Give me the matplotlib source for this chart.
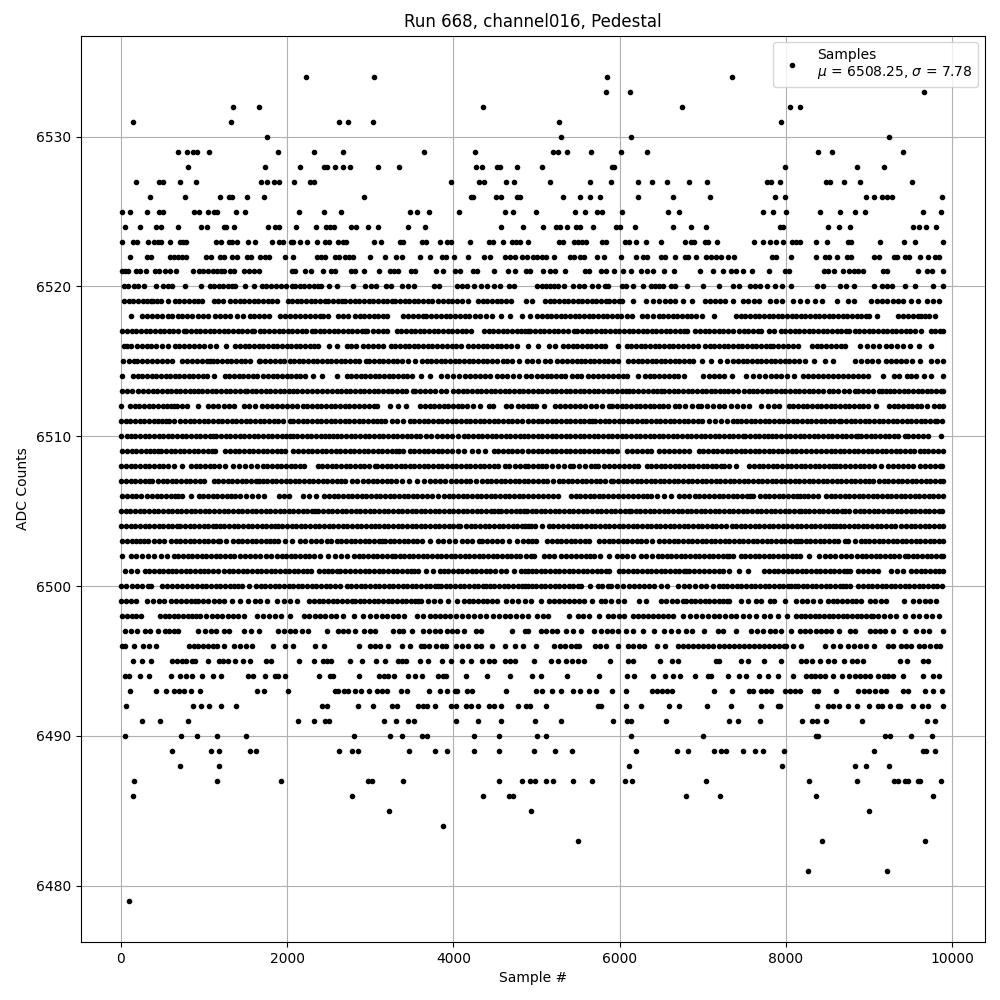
import matplotlib
matplotlib.use("Agg")
import matplotlib.pyplot as plt

# sample numbers per ADC level
# in the dense rows the dots overlap, so positions along a stretch are estimates
adc_6534 = [2232, 3048, 5854, 7354]
adc_6533 = [5842, 6130, 9658]
adc_6532 = [1344, 1656, 4356, 6754, 8050, 8170]
adc_6531 = [144, 1320, 2628, 2736, 3036, 5266, 7942]
adc_6530 = [1752, 5290, 6142, 9238]
adc_6529 = [684, 792, 864, 912, 1056, 1884, 2328, 2676, 3648, 4260, 5194, 5254, 5362, 5650, 6022, 6334, 8386, 8554, 9406]
adc_6528 = [804, 1728, 2160, 2448, 2476, 2580, 2676, 2760, 3096, 3348, 4272, 4344, 4524, 4564, 4764, 5062, 5914, 5934, 7990, 8854, 9178]
adc_6527 = [180, 456, 504, 708, 900, 1680, 1752, 1836, 1896, 2088, 2280, 2328, 3972, 4308, 4368, 4632, 4728, 5158, 5638, 5902, 6226, 6394, 6574, 6838, 7054, 7774, 7822, 7930, 8482, 8530, 8698, 8890, 9514]
adc_6526 = [348, 768, 1188, 1296, 1332, 1512, 1716, 2928, 4212, 4236, 4512, 4572, 4764, 4800, 5314, 5518, 5638, 5770, 6226, 6646, 7090, 7870, 7990, 8962, 9058, 9154, 9214, 9274, 9874]
adc_6525 = [12, 108, 312, 456, 504, 876, 936, 1044, 1116, 1152, 1380, 1488, 2148, 2448, 2652, 3480, 3564, 3708, 4068, 4620, 4716, 4990, 5458, 5578, 5734, 5794, 6034, 6586, 6718, 7726, 7846, 8002, 8410, 8650, 8830, 8950, 9646, 9862]
adc_6524 = [48, 228, 420, 480, 684, 960, 1032, 1236, 1260, 1356, 1764, 1848, 1896, 2112, 2352, 2472, 2520, 2568, 2772, 2832, 2976, 3096, 3456, 3660, 4572, 4836, 5074, 5230, 5278, 5362, 5470, 5518, 5686, 5962, 6010, 6190, 6646, 6862, 7042, 7930, 7966, 8506, 8638, 8770, 9526, 9598, 9682, 9802]
adc_6523 = [12, 144, 192, 324, 396, 444, 480, 588, 708, 744, 780, 1140, 1200, 1296, 1332, 1392, 1524, 1608, 1812, 1896, 1944, 2040, 2076, 2160, 2244, 2364, 2460, 2508, 2616, 2676, 2712, 3048, 3132, 3360, 3396, 3624, 3672, 3840, 3924, 3972, 4200, 4428, 4476, 4596, 4704, 4752, 4800, 4896, 5276, 5324, 5456, 5504, 5552, 5600, 5792, 5840, 6068, 6116, 6200, 6320, 6500, 6788, 6860, 6896, 7028, 7064, 7172, 7616, 7724, 7808, 7880, 7964, 8072, 8120, 8168, 8360, 8492, 8744, 8780, 9128, 9428, 9560, 9890]
adc_6522 = [108, 312, 360, 588, 636, 684, 732, 780, 1020, 1080, 1188, 1236, 1332, 1392, 1512, 1560, 1668, 1728, 1776, 1968, 2076, 2364, 2412, 2460, 2580, 2628, 2700, 2748, 2796, 3000, 3180, 3312, 3384, 3600, 3720, 3864, 3912, 4008, 4176, 4368, 4440, 4620, 4680, 4740, 4824, 4884, 4952, 5012, 5072, 5120, 5216, 5408, 5456, 5528, 5576, 5732, 5816, 6020, 6200, 6284, 6332, 6500, 6548, 6668, 6788, 6824, 6920, 7040, 7100, 7160, 7220, 7304, 7376, 7828, 7888, 8060, 8360, 8468, 8516, 8612, 8732, 8780, 9056, 9116, 9296, 9344, 9440, 9488, 9620, 9716, 9800, 9848]
adc_6521 = [12, 48, 84, 180, 228, 300, 408, 456, 528, 588, 660, 864, 936, 984, 1044, 1104, 1152, 1200, 1236, 1308, 1356, 1476, 1536, 1596, 1656, 2052, 2100, 2220, 2292, 2436, 2532, 2580, 2772, 2820, 2928, 3108, 3240, 3288, 3336, 3492, 3540, 3792, 3876, 4020, 4080, 4236, 4284, 4488, 4656, 4740, 4872, 4920, 5084, 5168, 5228, 5348, 5588, 5636, 5780, 5840, 5936, 6044, 6140, 6260, 6332, 6404, 6536, 6656, 6968, 7124, 7244, 7340, 7400, 7484, 7592, 7796, 7988, 8036, 8460, 8508, 8580, 8688, 8760, 8820, 8868, 8928, 9172, 9220, 9592, 9700, 9760, 9892]
adc_6520 = [36, 84, 156, 204, 276, 420, 504, 564, 612, 768, 960, 1068, 1116, 1176, 1224, 1284, 1332, 1368, 1488, 1596, 1692, 1740, 1800, 1860, 1920, 1980, 2052, 2100, 2160, 2208, 2268, 2328, 2376, 2412, 2508, 2604, 2792, 2940, 3012, 3072, 3192, 3252, 3384, 3456, 3528, 3768, 3828, 4044, 4104, 4164, 4248, 4332, 4404, 4488, 4560, 4668, 4728, 5012, 5072, 5120, 5168, 5216, 5264, 5336, 5444, 5516, 5576, 5672, 5744, 5828, 5864, 6032, 6080, 6164, 6284, 6380, 6428, 6476, 6524, 6620, 6668, 6812, 7000, 7192, 7364, 7436, 7568, 7628, 7688, 7772, 7868, 7952, 8060, 8372, 8444, 8652, 8724, 8820, 9056, 9152, 9212, 9272, 9440, 9560, 9776, 9892]
adc_6519 = [36, 92, 148, 204, 260, 316, 356, 388, 432, 476, 564, 648, 696, 756, 816, 876, 930, 976, 1116, 1172, 1228, 1316, 1372, 1428, 1484, 1540, 1596, 1652, 1708, 1764, 1820, 1876, 2004, 2060, 2116, 2172, 2228, 2284, 2340, 2396, 2456, 2496, 2552, 2608, 2664, 2696, 2756, 2812, 2868, 2924, 2980, 3036, 3092, 3148, 3204, 3260, 3296, 3356, 3412, 3468, 3524, 3580, 3636, 3692, 3748, 3816, 3876, 3932, 3988, 4044, 4100, 4176, 4296, 4352, 4408, 4464, 4520, 4576, 4632, 4696, 4876, 4948,
            5104, 5160, 5216, 5272, 5328, 5384, 5440, 5496, 5552, 5608, 5664, 5720, 5776, 5832, 5872, 5932, 5992, 6032, 6160, 6320, 6400, 6480, 6544, 6608, 6672, 6760, 6872, 7024, 7084, 7144, 7204, 7272, 7360, 7480, 7548, 7616, 7680, 7812, 7884, 7960, 8092, 8172, 8252, 8352, 8432, 8612, 8752, 8824, 9024, 9092, 9152, 9220, 9288, 9352, 9412, 9512, 9592, 9704, 9772, 9840]
adc_6518 = [124, 256, 316, 376, 436, 496, 564, 616, 684, 740, 800, 856, 924, 984, 1044, 1136, 1196, 1256, 1316, 1396, 1464, 1548, 1604, 1660, 1716, 1776, 1916, 1976, 2036, 2096, 2156, 2216, 2276, 2336, 2396, 2436, 2496, 2616, 2676, 2736, 2816, 2872, 2928, 2984, 3040, 3096, 3152, 3204, 3396, 3456, 3516, 3576, 3636, 3676, 3736, 3796, 3856, 3916, 3956, 4016, 4076, 4136, 4188, 4256, 4316, 4396, 4468, 4576, 4676, 4824, 4916,
            5012, 5068, 5124, 5180, 5236, 5292, 5348, 5404, 5460, 5516, 5572, 5628, 5684, 5740, 5796, 5852, 5908, 5964, 6020, 6092, 6152, 6272, 6332, 6404, 6472, 6528, 6584, 6640, 6696, 6752, 6808, 6864, 6920, 6992, 7132, 7400, 7456, 7512, 7568, 7624, 7680, 7736, 7792, 7848, 7904, 7960, 8016, 8072, 8128, 8184, 8232, 8292, 8348, 8404, 8460, 8516, 8572, 8628, 8684, 8740, 8796, 8852, 8908, 8964, 9000, 9092, 9352, 9412, 9472, 9532, 9592, 9624, 9670, 9720, 9800]
adc_6517 = [16, 72, 128, 184, 240, 296, 352, 408, 464, 520, 576, 632, 688, 756, 788, 844, 900, 956, 1012, 1068, 1124, 1180, 1236, 1292, 1348, 1404, 1460, 1516, 1572, 1596, 1668, 1724, 1780, 1836, 1896, 1952, 2008, 2064, 2120, 2176, 2232, 2296, 2336, 2392, 2448, 2504, 2560, 2616, 2672, 2728, 2784, 2840, 2896, 2936, 2956, 3036, 3092, 3148, 3204, 3316, 3372, 3428, 3484, 3540, 3596, 3652, 3708, 3764, 3820, 3876, 3932, 3988, 4044, 4100, 4148, 4216, 4368, 4424, 4480, 4536, 4592, 4648, 4704, 4760, 4816, 4860, 4900,
            4925, 4984, 5040, 5096, 5152, 5208, 5264, 5320, 5376, 5452, 5492, 5548, 5604, 5660, 5716, 5772, 5828, 5884, 5940, 5996, 6052, 6108, 6164, 6220, 6276, 6332, 6388, 6444, 6500, 6556, 6612, 6668, 6724, 6780, 6812, 6912, 6968, 7024, 7080, 7136, 7192, 7248, 7304, 7360, 7440, 7492, 7548, 7604, 7660, 7700, 7792, 7864, 7940, 7996, 8052, 8108, 8164, 8220, 8276, 8332, 8388, 8444, 8500, 8556, 8612, 8668, 8724, 8755, 8828, 8884, 8940, 8996, 9052, 9108, 9164, 9220, 9276, 9332, 9388, 9444, 9500, 9556, 9625, 9745, 9800, 9850, 9892]
adc_6516 = [36, 76, 116, 196, 252, 308, 364, 420, 496, 564, 648, 696, 756, 816, 876, 940, 1004, 1076, 1148, 1268, 1376, 1432, 1488, 1544, 1600, 1656, 1712, 1768, 1824, 1880, 1936, 1992, 2048, 2104, 2160, 2216, 2272, 2328, 2376, 2508, 2604, 2716, 2772, 2828, 2908, 2976, 3036, 3096, 3156, 3244, 3300, 3356, 3412, 3468, 3524, 3580, 3636, 3692, 3748, 3808, 3868, 3924, 3980, 4036, 4092, 4176, 4240, 4296, 4352, 4408, 4464, 4520, 4576, 4632, 4688, 4760, 4896,
            5020, 5152, 5224, 5324, 5380, 5436, 5492, 5548, 5604, 5660, 5716, 5772, 5828, 5976, 6085, 6141, 6197, 6253, 6309, 6365, 6421, 6477, 6533, 6599, 6640, 6700, 6760, 6820, 6880, 6948, 7028, 7084, 7140, 7196, 7252, 7308, 7364, 7420, 7476, 7532, 7588, 7644, 7700, 7756, 7804, 7844, 7904, 7964, 8024, 8084, 8144, 8316, 8380, 8424, 8484, 8544, 8604, 8664, 8715, 8888, 8975, 9045, 9116, 9205, 9270, 9335, 9405, 9498, 9605, 9750]
adc_6515 = [28, 92, 156, 196, 256, 316, 376, 436, 496, 556, 616, 736, 796, 856, 916, 976, 1036, 1076, 1104, 1160, 1216, 1272, 1328, 1384, 1440, 1496, 1556, 1656, 1676, 1736, 1796, 1856, 1916, 1964, 2028, 2084, 2140, 2196, 2252, 2308, 2364, 2420, 2476, 2532, 2588, 2644, 2700, 2756, 2812, 2868, 2948, 2988, 3044, 3100, 3156, 3212, 3268, 3324, 3376, 3456, 3540, 3620, 3680, 3736, 3792, 3848, 3904, 3960, 4016, 4072, 4128, 4184, 4240, 4296, 4352, 4408, 4464, 4520, 4600, 4648, 4708, 4788, 4888,
            4944, 5024, 5104, 5160, 5252, 5312, 5370, 5430, 5490, 5532, 5584, 5640, 5696, 5752, 5808, 5864, 5920, 5984, 6104, 6160, 6216, 6272, 6328, 6384, 6440, 6496, 6552, 6608, 6664, 6720, 6776, 6832, 6880, 6992, 7100, 7208, 7288, 7370, 7426, 7482, 7538, 7594, 7650, 7706, 7762, 7818, 7874, 7930, 7986, 8042, 8098, 8154, 8226, 8343, 8476, 8572, 8836, 8904, 8972, 9040, 9108, 9208, 9268, 9328, 9388, 9448, 9524, 9613, 9752, 9820, 9892]
adc_6514 = [12, 144, 200, 256, 312, 368, 424, 480, 536, 592, 648, 704, 760, 816, 872, 928, 984, 1040, 1124, 1248, 1304, 1360, 1416, 1472, 1528, 1584, 1640, 1704, 1768, 1824, 1880, 1936, 1992, 2048, 2104, 2160, 2216, 2308, 2420, 2596, 2716, 2772, 2828, 2884, 2940, 2996, 3052, 3108, 3164, 3220, 3276, 3332, 3388, 3444, 3496, 3608, 3720, 3848, 3920, 3992, 4068, 4136, 4196, 4256, 4316, 4376, 4440, 4528, 4588, 4648, 4720, 4792, 4868,
            4932, 5012, 5068, 5124, 5180, 5236, 5292, 5348, 5432, 5484, 5540, 5616, 5684, 5744, 5804, 5864, 5924, 5984, 6036, 6085, 6217, 6302, 6360, 6418, 6476, 6534, 6592, 6650, 6708, 6779, 7000, 7080, 7140, 7200, 7260, 7354, 7522, 7610, 7682, 7750, 7818, 7884, 7944, 8020, 8097, 8206, 8266, 8326, 8386, 8446, 8506, 8569, 8630, 8690, 8750, 8810, 8870, 8930, 8993, 9167, 9296, 9368, 9458, 9512, 9567, 9660, 9752, 9892]
adc_6513 = [16, 72, 128, 204, 268, 324, 380, 436, 492, 548, 604, 660, 716, 772, 828, 876, 924, 980, 1036, 1092, 1148, 1204, 1260, 1316, 1372, 1428, 1496, 1516, 1572, 1628, 1684, 1740, 1796, 1852, 1908, 1964, 2020, 2068, 2116, 2176, 2236, 2296, 2356, 2416, 2476, 2540, 2604, 2648, 2704, 2760, 2816, 2872, 2928, 2984, 3040, 3096, 3152, 3208, 3264, 3320, 3376, 3432, 3516, 3536, 3596, 3656, 3716, 3776, 3848, 3916, 4000, 4056, 4112, 4168, 4224, 4280, 4336, 4392, 4448, 4504, 4560, 4616, 4672, 4728, 4784, 4840, 4900,
            4960, 5016, 5072, 5128, 5184, 5240, 5296, 5352, 5408, 5464, 5520, 5576, 5632, 5688, 5744, 5800, 5856, 5912, 5968, 6024, 6080, 6117, 6165, 6225, 6285, 6345, 6405, 6450, 6498, 6538, 6594, 6650, 6706, 6762, 6818, 6874, 6930, 6986, 7042, 7098, 7154, 7210, 7261, 7301, 7365, 7429, 7493, 7554, 7603, 7659, 7715, 7771, 7827, 7883, 7939, 7995, 8051, 8107, 8163, 8219, 8275, 8331, 8387, 8443, 8519, 8567, 8632, 8697, 8762, 8828, 8868, 8930, 8992, 9054, 9116, 9162, 9209, 9249, 9305, 9361, 9417, 9473, 9529, 9585, 9641, 9697, 9753, 9809, 9865, 9892]
adc_6512 = [4, 108, 164, 220, 276, 332, 388, 444, 500, 556, 600, 644, 676, 736, 796, 924, 1044, 1108, 1172, 1236, 1300, 1364, 1476, 1536, 1608, 1696, 1756, 1816, 1876, 1936, 1996, 2056, 2124, 2188, 2244, 2300, 2356, 2412, 2468, 2524, 2580, 2636, 2692, 2748, 2804, 2864, 2924, 2984, 3040, 3084, 3236, 3336, 3428, 3604, 3660, 3716, 3772, 3828, 3884, 3940, 3996, 4052, 4108, 4164, 4236, 4324, 4428, 4476, 4636, 4696, 4776, 4840, 4900,
            4944, 4992, 5092, 5224, 5284, 5344, 5404, 5464, 5524, 5584, 5652, 5712, 5792, 5872, 5912, 5968, 6024, 6080, 6136, 6192, 6248, 6304, 6360, 6416, 6472, 6528, 6584, 6664, 6719, 6792, 6866, 6940, 6980, 7050, 7120, 7193, 7261, 7336, 7411, 7486, 7563, 7703, 7780, 7856, 7924, 8036, 8092, 8148, 8204, 8260, 8316, 8372, 8428, 8484, 8540, 8596, 8652, 8708, 8764, 8820, 8876, 8932, 8989, 9083, 9245, 9300, 9355, 9410, 9465, 9520, 9575, 9624, 9697, 9785, 9840, 9892]
adc_6511 = [0, 56, 112, 168, 224, 280, 336, 392, 448, 492, 536, 576, 644, 716, 772, 828, 884, 940, 996, 1052, 1108, 1164, 1220, 1276, 1332, 1388, 1444, 1500, 1556, 1612, 1668, 1724, 1780, 1836, 1892, 1948, 2028, 2076, 2132, 2188, 2244, 2300, 2356, 2412, 2468, 2524, 2580, 2636, 2692, 2748, 2804, 2860, 2916, 2972, 3028, 3084, 3130, 3176, 3256, 3326, 3396, 3476, 3532, 3588, 3644, 3700, 3756, 3812, 3868, 3924, 3980, 4036, 4092, 4148, 4204, 4260, 4316, 4372, 4428, 4484, 4540, 4596, 4652, 4708, 4764, 4820, 4900,
            4960, 5016, 5072, 5128, 5184, 5240, 5296, 5352, 5408, 5464, 5520, 5576, 5632, 5667, 5707, 5763, 5819, 5875, 5931, 5987, 6043, 6099, 6155, 6211, 6267, 6323, 6379, 6435, 6491, 6547, 6603, 6659, 6715, 6771, 6827, 6883, 6939, 6995, 7080, 7151, 7220, 7290, 7360, 7410, 7466, 7522, 7578, 7634, 7690, 7746, 7802, 7858, 7914, 7970, 8026, 8082, 8138, 8194, 8250, 8306, 8362, 8418, 8474, 8530, 8586, 8640, 8670, 8726, 8782, 8838, 8894, 8950, 9006, 9062, 9118, 9174, 9230, 9286, 9342, 9398, 9454, 9510, 9566, 9622, 9678, 9734, 9790, 9825, 9880]
adc_6510 = [4, 76, 116, 172, 228, 284, 340, 396, 452, 508, 564, 620, 676, 732, 788, 844, 900, 956, 1012, 1068, 1108, 1148, 1204, 1260, 1316, 1372, 1428, 1484, 1540, 1596, 1652, 1708, 1764, 1820, 1876, 1932, 1988, 2032, 2076, 2124, 2180, 2236, 2292, 2348, 2404, 2460, 2504, 2548, 2596, 2652, 2708, 2764, 2820, 2876, 2932, 2988, 3044, 3100, 3156, 3212, 3268, 3324, 3380, 3436, 3492, 3548, 3604, 3668, 3736, 3800, 3864, 3928, 3988, 4052, 4124, 4180, 4236, 4292, 4348, 4404, 4460, 4516, 4572, 4628, 4684, 4740, 4796, 4852, 4900,
            4960, 5016, 5072, 5128, 5184, 5240, 5296, 5352, 5408, 5464, 5520, 5576, 5632, 5688, 5744, 5800, 5856, 5912, 5968, 6024, 6080, 6136, 6192, 6248, 6304, 6360, 6416, 6472, 6528, 6584, 6640, 6696, 6752, 6808, 6864, 6920, 6976, 7032, 7088, 7144, 7200, 7256, 7312, 7368, 7424, 7482, 7514, 7570, 7626, 7682, 7738, 7788, 7832, 7888, 7944, 8000, 8056, 8112, 8168, 8224, 8280, 8336, 8392, 8448, 8504, 8560, 8616, 8672, 8728, 8784, 8840, 8868, 8908, 8964, 9020, 9076, 9132, 9188, 9244, 9300, 9356, 9430, 9470, 9530, 9590, 9650, 9712, 9872]
adc_6509 = [16, 72, 128, 184, 240, 296, 352, 396, 444, 484, 540, 596, 652, 708, 764, 820, 876, 932, 988, 1044, 1100, 1136, 1256, 1312, 1368, 1424, 1480, 1536, 1592, 1648, 1704, 1760, 1816, 1872, 1928, 1976, 2068, 2136, 2192, 2248, 2304, 2360, 2416, 2472, 2528, 2584, 2640, 2696, 2752, 2808, 2864, 2920, 2976, 3032, 3088, 3144, 3200, 3256, 3304, 3348, 3388, 3476, 3532, 3588, 3644, 3700, 3756, 3812, 3868, 3924, 3980, 4052, 4132, 4220, 4300, 4380, 4484, 4540, 4596, 4652, 4708, 4764, 4820, 4900,
            4960, 5016, 5072, 5128, 5184, 5240, 5296, 5352, 5408, 5464, 5520, 5576, 5632, 5688, 5744, 5800, 5856, 5912, 5965, 6085, 6145, 6205, 6265, 6325, 6378, 6470, 6530, 6590, 6650, 6710, 6770, 6831, 6952, 7008, 7064, 7120, 7176, 7232, 7288, 7344, 7400, 7456, 7512, 7568, 7624, 7680, 7736, 7792, 7848, 7904, 7960, 8016, 8072, 8128, 8185, 8245, 8305, 8366, 8426, 8482, 8538, 8594, 8650, 8706, 8762, 8818, 8874, 8930, 8986, 9042, 9098, 9154, 9210, 9266, 9322, 9378, 9434, 9490, 9546, 9619, 9659, 9715, 9771, 9827, 9892]
adc_6508 = [4, 60, 116, 172, 228, 284, 340, 396, 452, 508, 564, 644, 740, 844, 900, 956, 1012, 1068, 1124, 1180, 1256, 1348, 1420, 1492, 1564, 1636, 1704, 1760, 1816, 1872, 1928, 1984, 2040, 2096, 2152, 2204, 2368, 2424, 2480, 2536, 2592, 2648, 2704, 2760, 2816, 2872, 2928, 2984, 3056, 3084, 3140, 3196, 3252, 3308, 3364, 3420, 3476, 3532, 3588, 3644, 3700, 3756, 3812, 3868, 3924, 3980, 4036, 4092, 4148, 4204, 4260, 4316, 4372, 4428, 4484, 4540, 4616, 4668, 4736, 4804, 4860, 4900,
            4960, 5016, 5072, 5120, 5190, 5260, 5330, 5400, 5440, 5510, 5580, 5650, 5700, 5744, 5816, 5876, 5936, 5996, 6056, 6116, 6170, 6217, 6326, 6382, 6438, 6494, 6550, 6606, 6662, 6718, 6774, 6830, 6886, 6942, 6998, 7054, 7110, 7166, 7222, 7261, 7322, 7402, 7562, 7618, 7674, 7730, 7786, 7842, 7898, 7954, 8010, 8066, 8122, 8178, 8234, 8290, 8346, 8402, 8458, 8514, 8570, 8607, 8647, 8707, 8767, 8827, 8887, 8947, 9007, 9067, 9149, 9229, 9289, 9349, 9409, 9469, 9530, 9610, 9670, 9730, 9790, 9850, 9882]
adc_6507 = [4, 60, 116, 172, 228, 284, 340, 376, 444, 500, 556, 612, 668, 724, 780, 836, 892, 956, 1004, 1116, 1172, 1228, 1284, 1340, 1396, 1452, 1508, 1564, 1620, 1664, 1708, 1756, 1812, 1868, 1924, 1980, 2036, 2092, 2148, 2204, 2260, 2316, 2372, 2428, 2484, 2540, 2596, 2652, 2696, 2776, 2844, 2916, 2972, 3028, 3084, 3140, 3196, 3252, 3308, 3376, 3468, 3560, 3648, 3720, 3776, 3840, 3904, 3968, 4032, 4096, 4148, 4200, 4274, 4348, 4400, 4456, 4512, 4568, 4624, 4680, 4736, 4792, 4848, 4900,
            4960, 5020, 5080, 5132, 5193, 5265, 5321, 5377, 5433, 5489, 5545, 5601, 5657, 5713, 5769, 5825, 5896, 5924, 5980, 6036, 6092, 6148, 6204, 6260, 6316, 6372, 6428, 6484, 6540, 6596, 6652, 6708, 6764, 6820, 6876, 6932, 6988, 7044, 7100, 7156, 7212, 7268, 7324, 7380, 7436, 7492, 7548, 7604, 7660, 7716, 7772, 7828, 7884, 7940, 7996, 8052, 8108, 8164, 8220, 8276, 8332, 8388, 8444, 8500, 8556, 8612, 8668, 8724, 8780, 8836, 8892, 8948, 9004, 9049, 9122, 9178, 9234, 9290, 9346, 9402, 9458, 9514, 9570, 9626, 9682, 9738, 9794, 9850, 9892]
adc_6506 = [16, 72, 128, 184, 244, 316, 372, 428, 484, 540, 596, 652, 692, 736, 844, 936, 992, 1048, 1104, 1160, 1216, 1272, 1328, 1376, 1428, 1500, 1572, 1644, 1716, 1900, 1960, 2016, 2188, 2268, 2348, 2448, 2504, 2560, 2616, 2672, 2728, 2784, 2840, 2896, 2952, 3008, 3064, 3120, 3176, 3232, 3288, 3344, 3400, 3456, 3512, 3568, 3624, 3680, 3748, 3816, 3888, 3944, 4000, 4056, 4112, 4168, 4224, 4280, 4336, 4392, 4448, 4504, 4560, 4616, 4672, 4728, 4784, 4840, 4900,
            4960, 5020, 5080, 5140, 5193, 5253, 5414, 5470, 5526, 5582, 5638, 5694, 5750, 5806, 5862, 5918, 5977, 6045, 6105, 6165, 6225, 6285, 6330, 6378, 6446, 6538, 6618, 6711, 6775, 6840, 6905, 6960, 7020, 7081, 7137, 7193, 7249, 7305, 7361, 7417, 7473, 7529, 7570, 7610, 7691, 7747, 7803, 7859, 7915, 7971, 8027, 8083, 8139, 8173, 8213, 8270, 8326, 8386, 8486, 8542, 8598, 8654, 8710, 8766, 8822, 8878, 8934, 8990, 9046, 9102, 9158, 9214, 9270, 9326, 9382, 9438, 9494, 9550, 9606, 9662, 9718, 9774, 9830, 9892]
adc_6505 = [0, 56, 112, 168, 224, 280, 336, 392, 448, 504, 560, 616, 672, 728, 784, 840, 896, 952, 1008, 1064, 1120, 1176, 1236, 1292, 1348, 1404, 1460, 1516, 1572, 1628, 1684, 1740, 1796, 1852, 1908, 1964, 2020, 2076, 2132, 2188, 2244, 2300, 2336, 2376, 2432, 2488, 2544, 2600, 2656, 2712, 2768, 2824, 2880, 2936, 2992, 3048, 3104, 3160, 3216, 3272, 3328, 3384, 3440, 3496, 3552, 3608, 3664, 3720, 3776, 3832, 3888, 3944, 4000, 4056, 4112, 4168, 4224, 4280, 4336, 4392, 4448, 4492, 4536, 4576, 4636, 4696, 4756, 4800, 4848, 4888,
            4940, 4996, 5052, 5108, 5164, 5220, 5276, 5332, 5388, 5444, 5500, 5556, 5612, 5668, 5724, 5780, 5836, 5892, 5948, 6004, 6060, 6108, 6137, 6193, 6249, 6305, 6361, 6417, 6473, 6529, 6585, 6641, 6697, 6753, 6809, 6865, 6921, 6977, 7033, 7089, 7145, 7201, 7257, 7313, 7369, 7425, 7481, 7537, 7593, 7649, 7705, 7761, 7817, 7873, 7929, 7985, 8041, 8097, 8153, 8185, 8226, 8282, 8338, 8394, 8450, 8506, 8562, 8618, 8674, 8707, 8759, 8828, 8888, 8944, 9000, 9056, 9112, 9168, 9224, 9280, 9336, 9392, 9448, 9504, 9560, 9616, 9672, 9728, 9784, 9840, 9880]
adc_6504 = [4, 60, 116, 172, 228, 284, 340, 396, 452, 508, 564, 620, 676, 716, 772, 828, 884, 940, 996, 1052, 1108, 1148, 1188, 1244, 1300, 1356, 1412, 1468, 1524, 1580, 1636, 1692, 1748, 1804, 1856, 1884, 1940, 1996, 2052, 2108, 2164, 2220, 2276, 2332, 2388, 2444, 2500, 2556, 2612, 2668, 2724, 2780, 2836, 2892, 2948, 3004, 3056, 3104, 3160, 3216, 3272, 3328, 3384, 3440, 3496, 3552, 3608, 3664, 3720, 3776, 3832, 3888, 3944, 4000, 4052, 4084, 4152, 4208, 4264, 4320, 4376, 4432, 4488, 4544, 4600, 4656, 4712, 4768, 4824, 4860, 4900,
            4932, 4984, 5068, 5152, 5200, 5260, 5320, 5380, 5440, 5484, 5540, 5596, 5652, 5708, 5764, 5820, 5876, 5932, 5988, 6044, 6100, 6156, 6212, 6268, 6324, 6380, 6436, 6492, 6548, 6604, 6660, 6716, 6772, 6828, 6884, 6940, 6996, 7052, 7108, 7164, 7220, 7276, 7348, 7402, 7458, 7514, 7570, 7626, 7682, 7738, 7794, 7850, 7906, 7962, 8018, 8074, 8130, 8186, 8242, 8298, 8354, 8410, 8466, 8522, 8566, 8607, 8647, 8703, 8759, 8815, 8871, 8927, 8983, 9039, 9095, 9151, 9207, 9263, 9312, 9390, 9446, 9502, 9558, 9614, 9670, 9726, 9782, 9838, 9892]
adc_6503 = [16, 72, 128, 184, 230, 276, 328, 392, 456, 516, 604, 660, 716, 772, 828, 884, 940, 996, 1052, 1108, 1164, 1196, 1264, 1348, 1404, 1460, 1516, 1572, 1628, 1684, 1740, 1796, 1840, 1884, 1968, 2056, 2156, 2220, 2284, 2348, 2412, 2476, 2524, 2596, 2652, 2708, 2764, 2820, 2876, 2932, 2988, 3044, 3100, 3136, 3176, 3232, 3288, 3344, 3400, 3456, 3512, 3568, 3628, 3716, 3816, 3880, 3950, 4016, 4108, 4168, 4228, 4308, 4348, 4408, 4468, 4528, 4588, 4668, 4768, 4836, 4900,
            4950, 5000, 5132, 5188, 5244, 5300, 5356, 5412, 5468, 5524, 5580, 5635, 5756, 5812, 5868, 5924, 5980, 6036, 6092, 6148, 6204, 6260, 6316, 6388, 6470, 6538, 6594, 6650, 6706, 6762, 6818, 6874, 6930, 6986, 7042, 7098, 7154, 7210, 7266, 7322, 7378, 7434, 7490, 7546, 7602, 7658, 7714, 7770, 7826, 7882, 7938, 7994, 8050, 8106, 8144, 8185, 8241, 8297, 8353, 8409, 8465, 8521, 8577, 8633, 8707, 8747, 8828, 8908, 8948, 9004, 9060, 9116, 9172, 9228, 9284, 9340, 9396, 9452, 9508, 9564, 9620, 9676, 9732, 9788, 9844, 9892]
adc_6502 = [16, 116, 186, 256, 326, 396, 476, 556, 636, 692, 748, 804, 860, 916, 972, 1028, 1084, 1140, 1196, 1252, 1308, 1356, 1428, 1490, 1552, 1614, 1676, 1740, 1804, 1876, 1932, 1988, 2044, 2100, 2156, 2212, 2268, 2324, 2396, 2496, 2570, 2644, 2724, 2804, 2860, 2916, 2972, 3028, 3084, 3140, 3196, 3256, 3296, 3352, 3408, 3464, 3520, 3576, 3632, 3688, 3744, 3800, 3856, 3912, 3968, 4024, 4080, 4136, 4192, 4248, 4304, 4360, 4416, 4472, 4528, 4584, 4640, 4696, 4752, 4796, 4876,
            4930, 4972, 5092, 5150, 5213, 5293, 5353, 5413, 5473, 5533, 5593, 5640, 5695, 5763, 5876, 5965, 6030, 6095, 6157, 6257, 6320, 6390, 6458, 6511, 6567, 6623, 6679, 6735, 6791, 6847, 6903, 6959, 7015, 7071, 7127, 7183, 7239, 7295, 7322, 7370, 7463, 7515, 7571, 7627, 7683, 7739, 7795, 7851, 7907, 7963, 8019, 8075, 8120, 8165, 8278, 8398, 8466, 8530, 8595, 8660, 8727, 8788, 8856, 8912, 8968, 9024, 9080, 9136, 9192, 9248, 9304, 9360, 9430, 9470, 9526, 9582, 9638, 9694, 9750, 9806, 9862, 9892]
adc_6501 = [44, 116, 188, 284, 340, 396, 452, 508, 564, 616, 668, 724, 780, 836, 892, 948, 996, 1044, 1108, 1172, 1236, 1296, 1352, 1408, 1464, 1520, 1576, 1632, 1688, 1744, 1800, 1856, 1912, 1968, 2024, 2080, 2136, 2192, 2240, 2284, 2388, 2440, 2492, 2544, 2596, 2636, 2696, 2756, 2816, 2876, 2932, 2988, 3044, 3100, 3156, 3212, 3268, 3324, 3380, 3436, 3492, 3532, 3576, 3676, 3756, 3836, 3884, 3940, 3996, 4052, 4108, 4164, 4220, 4276, 4332, 4388, 4444, 4496, 4576, 4636, 4724, 4816, 4860, 4900,
            4940, 4996, 5052, 5108, 5164, 5220, 5276, 5332, 5388, 5444, 5500, 5556, 5612, 5668, 5724, 5780, 5836, 5876, 5989, 6045, 6101, 6157, 6213, 6269, 6325, 6381, 6437, 6493, 6549, 6605, 6661, 6717, 6773, 6800, 6840, 6900, 6960, 7020, 7080, 7140, 7195, 7249, 7322, 7434, 7543, 7743, 7799, 7855, 7911, 7967, 8023, 8079, 8135, 8191, 8247, 8303, 8359, 8415, 8471, 8527, 8583, 8639, 8695, 8735, 8775, 8868, 8928, 8988, 9048, 9109, 9270, 9340, 9412, 9511, 9567, 9623, 9679, 9735, 9791, 9847, 9892]
adc_6500 = [0, 64, 128, 192, 256, 320, 364, 496, 556, 616, 676, 736, 796, 856, 916, 972, 1028, 1084, 1140, 1196, 1252, 1308, 1364, 1410, 1456, 1536, 1624, 1680, 1736, 1792, 1848, 1904, 1960, 2016, 2072, 2128, 2184, 2240, 2296, 2352, 2408, 2464, 2520, 2576, 2636, 2716, 2772, 2828, 2884, 2940, 2996, 3052, 3108, 3164, 3220, 3276, 3332, 3388, 3444, 3500, 3556, 3612, 3668, 3724, 3780, 3820, 3856, 3908, 3964, 4020, 4076, 4132, 4188, 4244, 4300, 4352, 4392, 4444, 4492, 4548, 4604, 4660, 4716, 4772, 4828, 4860, 4900,
            4940, 4996, 5052, 5108, 5164, 5220, 5276, 5332, 5388, 5444, 5500, 5534, 5643, 5735, 5785, 5866, 5894, 5970, 6045, 6117, 6177, 6237, 6297, 6357, 6417, 6498, 6566, 6699, 6770, 6840, 6910, 6980, 7041, 7120, 7201, 7241, 7297, 7353, 7409, 7465, 7521, 7577, 7633, 7689, 7745, 7801, 7857, 7913, 7969, 8025, 8065, 8105, 8145, 8201, 8257, 8313, 8369, 8425, 8481, 8537, 8593, 8649, 8690, 8727, 8767, 8868, 8928, 8984, 9040, 9096, 9152, 9208, 9264, 9320, 9376, 9432, 9488, 9544, 9600, 9656, 9712, 9768, 9824, 9880]
adc_6499 = [0, 60, 120, 176, 316, 386, 456, 516, 604, 664, 724, 784, 844, 896, 924, 988, 1052, 1116, 1180, 1244, 1336, 1436, 1526, 1616, 1676, 1756, 1876, 1956, 2036, 2116, 2268, 2324, 2380, 2436, 2492, 2548, 2604, 2660, 2716, 2776, 2816, 2872, 2928, 2984, 3040, 3096, 3152, 3208, 3264, 3320, 3376, 3432, 3488, 3544, 3576, 3616, 3690, 3764, 3836, 3940, 4048, 4128, 4184, 4240, 4296, 4352, 4408, 4464, 4528, 4636, 4706, 4776, 4856,
            4932, 5060, 5152, 5212, 5272, 5332, 5392, 5452, 5512, 5572, 5664, 5772, 5824, 5900, 5976, 6052, 6237, 6317, 6498, 6563, 6628, 6693, 6759, 6799, 6855, 6911, 6967, 7023, 7079, 7135, 7191, 7247, 7290, 7322, 7463, 7543, 7643, 7703, 7804, 7864, 7996, 8125, 8192, 8259, 8326, 8406, 8507, 8564, 8621, 8678, 8735, 8792, 8849, 8908, 9008, 9075, 9142, 9209, 9418, 9530, 9600, 9670, 9740, 9811]
adc_6498 = [16, 72, 128, 184, 236, 468, 524, 580, 636, 692, 748, 804, 860, 908, 956, 1028, 1092, 1156, 1216, 1284, 1348, 1412, 1476, 1636, 1710, 1784, 1856, 1928, 2036, 2204, 2268, 2332, 2396, 2460, 2524, 2588, 2668, 2804, 2916, 2996, 3066, 3136, 3204, 3270, 3336, 3404, 3564, 3640, 3716, 3776, 3836, 3896, 3956, 4036, 4108, 4180, 4252, 4324, 4396, 4476, 4546, 4616, 4684, 4756, 4828, 4900,
            5012, 5078, 5144, 5394, 5494, 5554, 5635, 5747, 5856, 5920, 5990, 6058, 6157, 6217, 6277, 6337, 6397, 6457, 6517, 6577, 6639, 6767, 6842, 6917, 6992, 7061, 7131, 7201, 7271, 7342, 7402, 7482, 7562, 7643, 7743, 7804, 7904, 8012, 8125, 8181, 8237, 8293, 8349, 8405, 8461, 8517, 8573, 8629, 8685, 8741, 8797, 8853, 8909, 8965, 9021, 9049, 9109, 9183, 9257, 9330, 9430, 9530, 9608, 9686, 9764, 9843]
adc_6497 = [48, 116, 192, 284, 348, 444, 524, 576, 636, 684, 924, 1016, 1088, 1148, 1236, 1296, 1476, 1566, 1656, 1884, 1956, 2028, 2100, 2184, 2256, 2484, 2616, 2676, 2736, 2820, 2928, 2996, 3056, 3276, 3348, 3396, 3504, 3640, 3708, 3774, 3840, 3928, 3988, 4048, 4128, 4268, 4328, 4708, 4860, 4900,
            5052, 5120, 5186, 5252, 5352, 5442, 5532, 5692, 5772, 5852, 5912, 5984, 6072, 6164, 6276, 6418, 6538, 6618, 6699, 6800, 6868, 7012, 7181, 7249, 7406, 7583, 7657, 7731, 7804, 7876, 7944, 8065, 8173, 8235, 8297, 8359, 8421, 8483, 8546, 8639, 8767, 8828, 9008, 9068, 9128, 9189, 9290, 9438, 9570, 9645, 9719, 9892]
adc_6496 = [12, 48, 156, 264, 342, 420, 816, 876, 924, 984, 1044, 1104, 1152, 1236, 1356, 1436, 1506, 1576, 1824, 1976, 2068, 2340, 2448, 2868, 2996, 3056, 3116, 3216, 3376, 3480, 3608, 3648, 3708, 3788, 3868, 3908, 4028, 4108, 4176, 4276, 4328, 4464, 4616, 4740, 4836,
            5000, 5212, 5280, 5346, 5412, 5472, 5512, 5704, 5760, 5840, 5976, 6096, 6160, 6230, 6296, 6448, 6544, 6699, 6759, 6819, 6879, 6939, 6999, 7059, 7121, 7193, 7253, 7313, 7373, 7433, 7493, 7553, 7613, 7673, 7733, 7793, 7853, 7913, 7973, 8004, 8085, 8181, 8470, 8567, 8657, 8747, 8820, 8895, 8969, 9061, 9229, 9290, 9390, 9450, 9511, 9604, 9667, 9731, 9811, 9860]
adc_6495 = [144, 248, 360, 616, 674, 732, 788, 856, 896, 1044, 1176, 1230, 1284, 1368, 1468, 1548, 1740, 1800, 2148, 2328, 2436, 2484, 2532, 2760, 2904, 3072, 3172, 3336, 3376, 3432, 3600, 3692, 3860, 3968, 4108, 4208, 4348, 4424, 4484, 4624, 4684, 4744,
            4972, 5172, 5264, 5350, 5422, 5498, 5574, 5890, 6096, 6165, 6482, 6627, 6699, 7161, 7201, 7458, 7542, 7735, 7940, 8185, 8245, 8316, 8408, 8507, 8575, 8700, 8796, 8860, 8930, 9370, 9463, 9652, 9713]
adc_6494 = [48, 96, 224, 336, 600, 708, 784, 852, 972, 1112, 1200, 1524, 1592, 1728, 1856, 1884, 1976, 2388, 2516, 2556, 2868, 3108, 3160, 3216, 3288, 3456, 3540, 3624, 3816, 3876, 3908, 4148, 4404, 4676, 4944,
            5052, 5362, 5747, 6085, 6177, 6398, 6542, 6639, 6723, 6905, 7061, 7101, 7301, 7442, 7522, 7675, 7784, 7904, 8085, 8245, 8300, 8355, 8410, 8466, 8567, 8680, 8760, 8828, 8888, 8948, 9008, 9109, 9177, 9229, 9290, 9410, 9651, 9771, 9843]
adc_6493 = [108, 420, 540, 636, 696, 756, 840, 948, 1632, 1716, 2004, 2580, 2616, 2688, 2736, 2820, 2892, 2988, 3084, 3136, 3204, 3372, 3436, 3708, 3840, 3928, 4016, 4048, 4168, 4228, 4632,
            5000, 5064, 5181, 5289, 5434, 5518, 5635, 5715, 5904, 6073, 6386, 6446, 6506, 6566, 6630, 7141, 7350, 7554, 7610, 7699, 7760, 7823, 7996, 8052, 8108, 8165, 8338, 8386, 8599, 8868, 8936, 9004, 9072, 9140, 9209, 9410, 9470, 9679, 9771, 9880]
adc_6492 = [60, 864, 960, 1056, 1200, 1380, 2424, 2484, 2856, 3036, 3256, 3324, 3576, 3630, 3684, 3776, 3968, 4028, 4148, 4208, 4292, 4424, 4484, 4568, 4772, 4868, 4924,
            5120, 5735, 5775, 6073, 6253, 6599, 6711, 7049, 7337, 7699, 7904, 7932, 8374, 8507, 8567, 8640, 8748, 8856, 9000, 9109, 9157, 9253, 9350, 9378, 9530, 9643, 9711, 9892]
adc_6491 = [248, 468, 804, 2128, 2320, 2452, 2500, 3160, 3304, 3456, 3528, 4036, 4300, 4572, 4988, 5289, 5916, 6085, 6133, 6555, 7314, 7422, 7687, 8193, 8313, 8374, 8482, 8916, 9699, 9795]
adc_6490 = [48, 720, 912, 1152, 1500, 2800, 3232, 3376, 3628, 3680, 4252, 4552, 5012, 5120, 6133, 7000, 8358, 8386, 9193, 9253, 9506, 9759]
adc_6489 = [612, 1080, 1176, 1548, 1620, 2628, 2784, 2856, 3460, 3784, 3928, 4252, 4552, 4976, 5217, 5422, 6193, 6687, 6820, 7133, 7217, 7277, 7482, 7627, 7723, 7976, 9061, 9651, 9691, 9795]
adc_6488 = [708, 1176, 6109, 7952, 8832, 8964, 9241]
adc_6487 = [156, 1152, 1920, 2972, 3020, 3396, 4548, 4824, 4920, 4988, 5109, 5193, 5434, 5663, 6061, 6145, 7036, 8277, 8856, 9301, 9350, 9434, 9470, 9591, 9619, 9868]
adc_6486 = [144, 2784, 4360, 4672, 4712, 6795, 7205, 8362, 9771]
adc_6485 = [3228, 4936, 9000]
adc_6484 = [3880]
adc_6483 = [5494, 8434, 9675]
adc_6481 = [8265, 9217]
adc_6479 = [96]

rows = {6534: adc_6534, 6533: adc_6533, 6532: adc_6532, 6531: adc_6531, 6530: adc_6530,
        6529: adc_6529, 6528: adc_6528, 6527: adc_6527, 6526: adc_6526, 6525: adc_6525,
        6524: adc_6524, 6523: adc_6523, 6522: adc_6522, 6521: adc_6521, 6520: adc_6520,
        6519: adc_6519, 6518: adc_6518, 6517: adc_6517, 6516: adc_6516, 6515: adc_6515,
        6514: adc_6514, 6513: adc_6513, 6512: adc_6512, 6511: adc_6511, 6510: adc_6510,
        6509: adc_6509, 6508: adc_6508, 6507: adc_6507, 6506: adc_6506, 6505: adc_6505,
        6504: adc_6504, 6503: adc_6503, 6502: adc_6502, 6501: adc_6501, 6500: adc_6500,
        6499: adc_6499, 6498: adc_6498, 6497: adc_6497, 6496: adc_6496, 6495: adc_6495,
        6494: adc_6494, 6493: adc_6493, 6492: adc_6492, 6491: adc_6491, 6490: adc_6490,
        6489: adc_6489, 6488: adc_6488, 6487: adc_6487, 6486: adc_6486, 6485: adc_6485,
        6484: adc_6484, 6483: adc_6483, 6481: adc_6481, 6479: adc_6479}

x = []
y = []
for level in rows:
    for s in rows[level]:
        x.append(s)
        y.append(level)

fig, ax = plt.subplots(figsize=(10, 10))
ax.plot(x, y, 'k.', label='Samples\n$\\mu$ = 6508.25, $\\sigma$ = 7.78')
ax.set_xlim(-481, 10397)
ax.set_ylim(6476.25, 6536.75)
ax.set_xlabel('Sample #')
ax.set_ylabel('ADC Counts')
ax.set_title('Run 668, channel016, Pedestal')
ax.grid(True)
ax.legend(loc='upper right')
fig.subplots_adjust(left=0.081, right=0.985, top=0.9645, bottom=0.058)
fig.savefig('out.png', dpi=100)
